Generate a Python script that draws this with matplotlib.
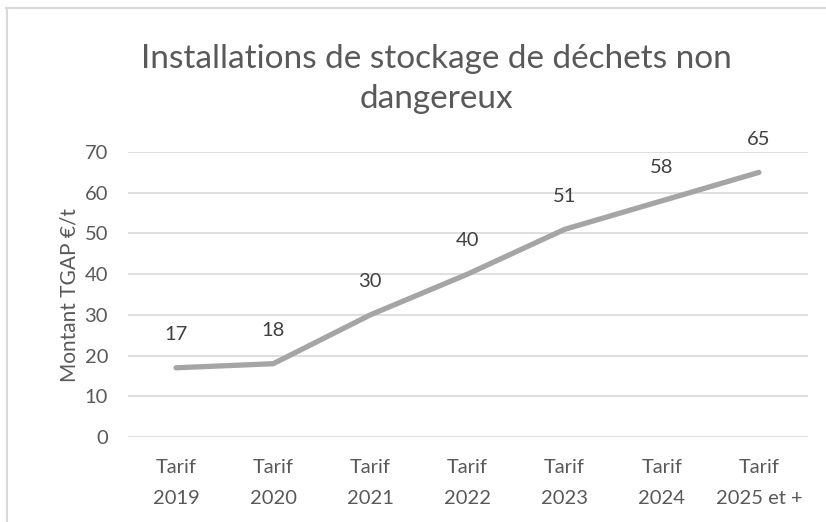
import matplotlib.pyplot as plt
from matplotlib.lines import Line2D
import numpy as np

categories = ['Tarif\n2019', 'Tarif\n2020', 'Tarif\n2021', 'Tarif\n2022',
              'Tarif\n2023', 'Tarif\n2024', 'Tarif\n2025 et +']
montants = [17, 18, 30, 40, 51, 58, 65]
yticks = [0, 10, 20, 30, 40, 50, 60, 70]

plt.rcParams['font.family'] = ['Lato', 'DejaVu Sans']
txt = '#595959'

fig = plt.figure(figsize=(8.26, 5.22), dpi=100)
ax = fig.add_axes([127.5 / 826, 1 - 437 / 522, 680 / 826, 285 / 522])

x = np.arange(len(categories))
ax.plot(x, montants, color='#A5A5A5', linewidth=3.8, solid_capstyle='round',
        solid_joinstyle='round', zorder=3)
for xi, v in zip(x, montants):
    ax.annotate(str(v), (xi, v), xytext=(0, 24), textcoords='offset points',
                ha='center', va='center', fontsize=14.5, color='#404040')

ax.set_xlim(-0.5, len(categories) - 0.5)
ax.set_ylim(0, 70)
ax.set_yticks(yticks)
ax.set_xticks(x)
ax.set_xticklabels(categories, linespacing=1.95)
ax.grid(axis='y', color='#D9D9D9', linewidth=1.2)
ax.set_axisbelow(True)
for s in ax.spines.values():
    s.set_visible(False)
ax.tick_params(length=0, labelsize=14.5, colors=txt)
ax.tick_params(axis='y', pad=14)
ax.tick_params(axis='x', pad=16)
ax.set_ylabel('Montant TGAP €/t', fontsize=15, color=txt, labelpad=4)

fig.text(436 / 826, 1 - 79 / 522, 'Installations de stockage de déchets non\ndangereux',
         ha='center', va='center', fontsize=24, color=txt, linespacing=1.45)

# bordure du graphique
fig.add_artist(Line2D([6 / 826, 1], [1 - 7.5 / 522] * 2, color='#D9D9D9', linewidth=1.5))
fig.add_artist(Line2D([6.5 / 826] * 2, [0, 1 - 7.5 / 522], color='#D9D9D9', linewidth=1.5))

fig.savefig('out.png', dpi=100)
